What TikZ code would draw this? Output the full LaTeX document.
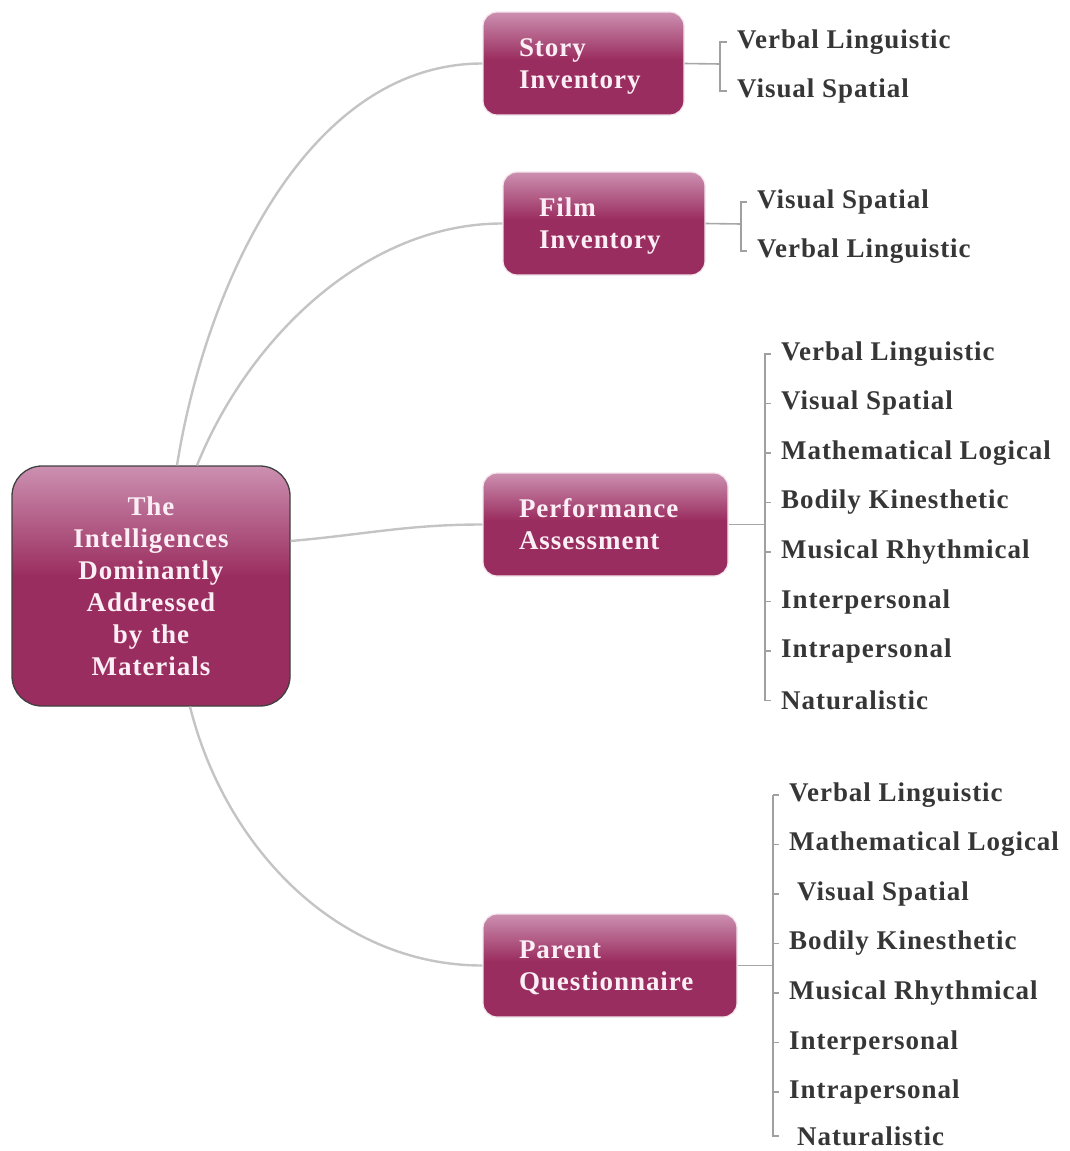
\documentclass[tikz,border=0pt]{standalone}
\usepackage{fontspec}
\setmainfont{Liberation Serif}
\newfontfamily\boxfont{Liberation Serif}[LetterSpace=3.5]
\newfontfamily\leaffont{Liberation Serif}[LetterSpace=3.5]
\definecolor{mgDark}{HTML}{9A2D5F}
\definecolor{mgLight}{HTML}{CC90B1}
\definecolor{connGray}{HTML}{C4C4C4}
\definecolor{brGray}{HTML}{A0A0A0}
\definecolor{leafText}{HTML}{363636}
\definecolor{boxText}{HTML}{FBEFF5}
\pgfdeclareverticalshading{boxgrad}{100bp}{color(0bp)=(mgDark); color(25bp)=(mgDark); color(52bp)=(mgDark); color(75bp)=(mgLight); color(100bp)=(mgLight)}
\begin{document}
\begin{tikzpicture}[x=1pt,y=-1pt,
  mbox/.style={rounded corners=14pt, shading=boxgrad, draw=white!88!mgDark, line width=1.2pt,
    inner xsep=36pt, inner ysep=0pt, align=left, minimum height=103pt,
    text height=24pt, text depth=38pt,
    font=\boxfont\bfseries\fontsize{27}{32}\selectfont, text=boxText},
  rootbox/.style={rounded corners=30pt, shading=boxgrad, draw=black!75, line width=1.3pt,
    inner sep=0pt, align=center, minimum width=278pt, minimum height=240pt, text width=260pt,
    font=\boxfont\bfseries\fontsize{27}{32}\selectfont, text=boxText},
  leaf/.style={anchor=west, inner sep=0pt, text=leafText, yshift=-2pt,
    font=\leaffont\bfseries\fontsize{27}{30}\selectfont},
  conn/.style={draw=connGray, line width=2.4pt},
  br/.style={draw=brGray, line width=1.6pt},
  stub/.style={draw=connGray!85!black, line width=1.6pt}
]
\useasboundingbox (0,0) rectangle (1069,1151);

% root
\node[rootbox] (root) at (151,586) {The\\Intelligences\\Dominantly\\Addressed\\by the\\Materials};

% material boxes
\node[mbox, text width=129pt] (story) at (583.5,63.5) {Story\\Inventory};
\node[mbox, text width=130pt] (film) at (604,223.5) {Film\\Inventory};
\node[mbox, text width=173pt] (perf) at (605.5,524.5) {Performance\\Assessment};
\node[mbox, text width=182pt] (parent) at (610,965.5) {Parent\\Questionnaire};

% connectors from the root
\draw[conn] ([xshift=26pt]root.north) to[out=81,in=180,looseness=0.9] (story.west);
\draw[conn] ([xshift=46pt]root.north) to[out=68,in=180,looseness=0.9] (film.west);
\draw[conn] ([yshift=45pt]root.east) to[out=5,in=180] (perf.west);
\draw[conn] ([xshift=39pt]root.south) to[out=-76,in=180,looseness=0.95] (parent.west);

% Story inventory
\node[leaf] (s1) at (737,40) {Verbal Linguistic};
\node[leaf] (s2) at (737,89) {Visual Spatial};
\coordinate (sb) at (720,64);
\draw[stub] (story.east) -- (sb);
\draw[br] ([xshift=-10pt]s1.west) -| (sb) |- ([xshift=-10pt]s2.west);

% Film inventory
\node[leaf] (f1) at (757,200) {Visual Spatial};
\node[leaf] (f2) at (757,249) {Verbal Linguistic};
\coordinate (fb) at (741,224);
\draw[stub] (film.east) -- (fb);
\draw[br] ([xshift=-10pt]f1.west) -| (fb) |- ([xshift=-10pt]f2.west);

% Performance assessment
\node[leaf] (p1) at (781,352) {Verbal Linguistic};
\node[leaf] (p2) at (781,401.5) {Visual Spatial};
\node[leaf] (p3) at (781,451) {Mathematical Logical};
\node[leaf] (p4) at (781,500.5) {Bodily Kinesthetic};
\node[leaf] (p5) at (781,550) {Musical Rhythmical};
\node[leaf] (p6) at (781,599.5) {Interpersonal};
\node[leaf] (p7) at (781,649) {Intrapersonal};
\node[leaf] (p8) at (781,698.5) {Naturalistic};
\coordinate (pb) at (765,524.5);
\draw[stub] (perf.east) -- (pb);
\draw[br] ([xshift=-10pt]p1.west) -| (pb) |- ([xshift=-10pt]p8.west);
\foreach \n in {p2,p3,p4,p5,p6,p7}
  \draw[br] (pb |- \n.west) -- ++(6,0);

% Parent questionnaire
\node[leaf] (q1) at (789,793) {Verbal Linguistic};
\node[leaf] (q2) at (789,842.5) {Mathematical Logical};
\node[leaf] (q3) at (797,892) {Visual Spatial};
\node[leaf] (q4) at (789,941.5) {Bodily Kinesthetic};
\node[leaf] (q5) at (789,991) {Musical Rhythmical};
\node[leaf] (q6) at (789,1040.5) {Interpersonal};
\node[leaf] (q7) at (789,1090) {Intrapersonal};
\node[leaf] (q8) at (797,1134) {Naturalistic};
\coordinate (qb) at (773,965.5);
\draw[stub] (parent.east) -- (qb);
\draw[br] (qb |- q1.west) -- ++(6,0);
\draw[br] (qb |- q1.west) -- (qb |- q8.west) -- ++(6,0);
\foreach \n in {q2,q3,q4,q5,q6,q7}
  \draw[br] (qb |- \n.west) -- ++(6,0);
\end{tikzpicture}
\end{document}
